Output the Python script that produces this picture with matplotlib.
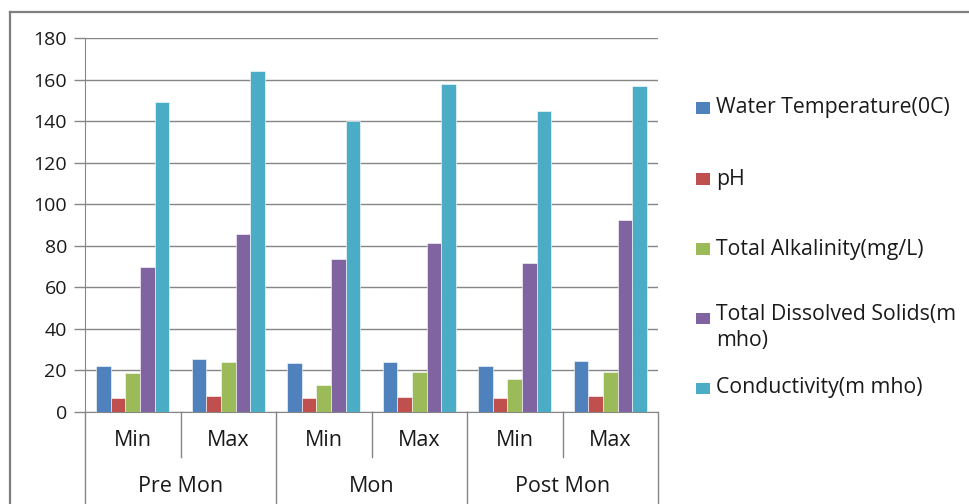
import matplotlib
matplotlib.use("Agg")
import matplotlib.pyplot as plt
from matplotlib.patches import Rectangle
from matplotlib.lines import Line2D
import numpy as np

# seasons and the min/max reading inside each one
seasons = ["Pre Mon", "Mon", "Post Mon"]
stats = ["Min", "Max"]

series_names = ["Water Temperature(0C)", "pH", "Total Alkalinity(mg/L)",
                "Total Dissolved Solids(m\nmho)", "Conductivity(m mho)"]
series_colors = ["#4F81BD", "#C0504D", "#9BBB59", "#8064A2", "#4BACC6"]

# order: Pre Mon Min, Pre Mon Max, Mon Min, Mon Max, Post Mon Min, Post Mon Max
water_temp = [22, 25.4, 23.4, 24.2, 22.3, 24.5]
ph = [6.6, 7.7, 6.6, 7.2, 6.9, 7.9]
alkalinity = [18.6, 24.2, 13.1, 19.4, 15.9, 19.1]
tds = [70, 85.5, 73.6, 81.2, 71.6, 92.4]
conductivity = [149, 164, 140, 158, 145, 157]
series_values = [water_temp, ph, alkalinity, tds, conductivity]

y_ticks = list(range(0, 181, 20))

W, H = 970, 504
plt.rcParams['font.family'] = ['Open Sans', 'DejaVu Sans']
fig = plt.figure(figsize=(W / 100, H / 100), dpi=100)

grey = "#868686"
txt = "#1a1a1a"
fs_tick = 14
fs_lab = 15.5
fs_leg = 15.3

# outer chart frame
fig.add_artist(Line2D([10 / W, 10 / W], [0, 1 - 12 / H], color="#7f7f7f", lw=1.6))
fig.add_artist(Line2D([10 / W, 1], [1 - 12 / H, 1 - 12 / H], color="#7f7f7f", lw=1.6))

px0, px1, py_top, py_zero = 85, 658, 38, 412
ax = fig.add_axes([px0 / W, 1 - py_zero / H, (px1 - px0) / W, (py_zero - py_top) / H])

n_cat = len(seasons) * len(stats)
n_ser = len(series_values)
bw = 1 / (n_ser + 1.5)
x = np.arange(n_cat) + 0.5
for i, (vals, col) in enumerate(zip(series_values, series_colors)):
    ax.bar(x + (i - (n_ser - 1) / 2) * bw, vals, width=bw, color=col,
           edgecolor="white", linewidth=0.4, zorder=3)

ax.set_xlim(0, n_cat)
ax.set_ylim(0, 180)
ax.set_yticks(y_ticks)
ax.set_yticklabels([str(t) for t in y_ticks], fontsize=fs_tick, color=txt)
ax.yaxis.grid(True, color=grey, lw=1.0, zorder=0)
ax.tick_params(axis='y', length=8, width=1, color=grey, pad=5)
ax.set_xticks([])
for s in ["top", "right"]:
    ax.spines[s].set_visible(False)
ax.spines["left"].set_color(grey)
ax.spines["bottom"].set_color(grey)

# two-level category axis below the plot
ph_ax = py_zero - py_top
tr = ax.get_xaxis_transform()
inner_bot = -(457 - py_zero) / ph_ax
outer_bot = -(H - py_zero + 2) / ph_ax
for k in range(n_cat + 1):
    bottom = outer_bot if k % len(stats) == 0 else inner_bot
    ax.plot([k, k], [0, bottom], transform=tr, color=grey, lw=1.0, clip_on=False)
for k in range(n_cat):
    ax.text(k + 0.5, -(441 - py_zero) / ph_ax, stats[k % len(stats)], transform=tr,
            ha="center", va="center", fontsize=fs_lab, color=txt)
for g, name in enumerate(seasons):
    ax.text(g * len(stats) + len(stats) / 2, -(487 - py_zero) / ph_ax, name, transform=tr,
            ha="center", va="center", fontsize=fs_lab, color=txt)

# legend on the right
leg_y = [108, 179, 249, 318, 388]
for name, col, yy in zip(series_names, series_colors, leg_y):
    fig.add_artist(Rectangle((696 / W, 1 - (yy + 5.5) / H), 14 / W, 11 / H,
                             facecolor=col, edgecolor="none"))
    if "\n" in name:
        fig.text(716 / W, 1 - (yy - 14) / H, name, ha="left", va="top",
                 fontsize=fs_leg, color=txt, linespacing=1.32)
    else:
        fig.text(716 / W, 1 - yy / H, name, ha="left", va="center",
                 fontsize=fs_leg, color=txt)

fig.savefig("out.png", dpi=100, facecolor="white")
